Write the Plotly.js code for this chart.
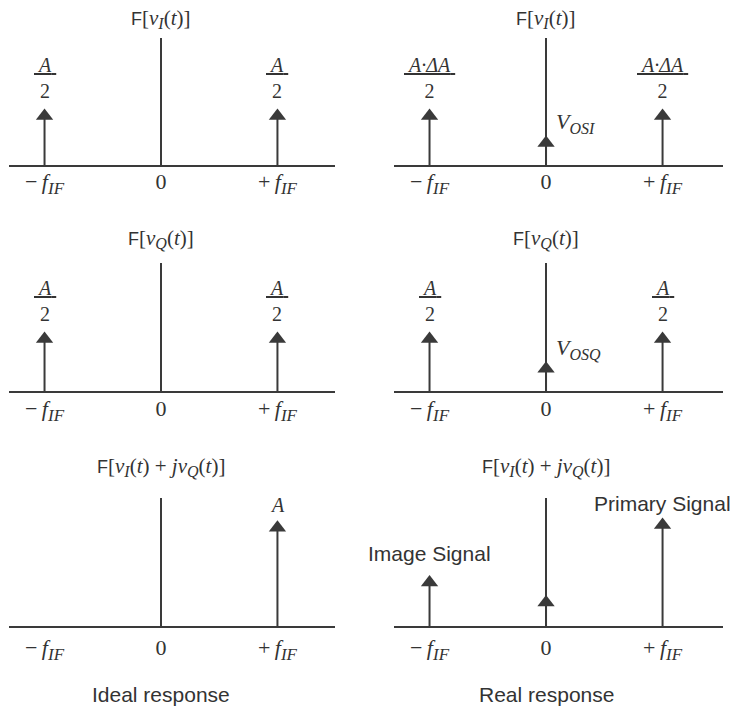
<!DOCTYPE html>
<html>
<head>
<meta charset="utf-8">
<script src="https://cdn.plot.ly/plotly-3.0.1.min.js"></script>
<style>
  html, body { margin: 0; padding: 0; background: #ffffff; }
  #chart { width: 733px; height: 706px; }
</style>
</head>
<body>
<div id="chart"></div>
<script>
// Subscript helper: larger subscripts than Plotly's default 70%
function sub(s, px) {
  return '<sub><span style="font-size:' + px + 'px"><i>' + s + '</i></span></sub>';
}

// Frequency positions (in units of f_IF) and their tick labels
const freqTicks = [-1, 0, 1];
const freqTickLabels = [
  '\u2212\u2009<i>f</i>' + sub('IF', 17),
  '0',
  '+\u2009<i>f</i>' + sub('IF', 17)
];

// Spectral lines of each panel: frequency (x f_IF) and relative amplitude
const idealIFreq = [-1, 1];
const idealIAmp  = [0.39, 0.39];
const realIFreq  = [-1, 0, 1];
const realIAmp   = [0.39, 0.18, 0.39];
const idealQFreq = [-1, 1];
const idealQAmp  = [0.41, 0.41];
const realQFreq  = [-1, 0, 1];
const realQAmp   = [0.41, 0.18, 0.41];
const idealCFreq = [1];
const idealCAmp  = [0.77];
const realCFreq  = [-1, 0, 1];
const realCAmp   = [0.345, 0.19, 0.79];

const F = '<span style="font-family:Liberation Sans,Arial,sans-serif;font-size:18px">F</span>';
const vI = '<i>v</i>' + sub('I', 16);
const vQ = '<i>v</i>' + sub('Q', 16);
const panelTitles = [
  F + '[' + vI + '(<i>t</i>)]',
  F + '[' + vI + '(<i>t</i>)]',
  F + '[' + vQ + '(<i>t</i>)]',
  F + '[' + vQ + '(<i>t</i>)]',
  F + '[' + vI + '(<i>t</i>) + <i>j</i>' + vQ + '(<i>t</i>)]',
  F + '[' + vI + '(<i>t</i>) + <i>j</i>' + vQ + '(<i>t</i>)]'
];
const columnCaptions = ['Ideal response', 'Real response'];

const INK = '#3a3a3a';
const TEXT = '#333333';
const SERIF = 'Liberation Serif, Times New Roman, serif';
const SANS = 'Liberation Sans, Arial, sans-serif';

const panels = [
  { f: idealIFreq, a: idealIAmp },
  { f: realIFreq,  a: realIAmp },
  { f: idealQFreq, a: idealQAmp },
  { f: realQFreq,  a: realQAmp },
  { f: idealCFreq, a: idealCAmp },
  { f: realCFreq,  a: realCAmp }
];

// Subplot placement (paper fractions)
const colX = [[0.0123, 0.4570], [0.5375, 0.9864]];
const colRange = [[-1.305, 1.494], [-1.305, 1.519]];
const rowY = [[0.7649, 0.9462], [0.4448, 0.6275], [0.1119, 0.2946]];
const rowStandoff = [0, 1, 5];
const rowTitleShift = [4, 9, 16];

const traces = [];
const layout = {
  width: 733, height: 706,
  margin: { l: 0, r: 0, t: 0, b: 0 },
  paper_bgcolor: '#ffffff', plot_bgcolor: 'rgba(0,0,0,0)',
  showlegend: false,
  annotations: []
};

panels.forEach((p, i) => {
  const n = i + 1;
  const sfx = n === 1 ? '' : String(n);
  const xa = 'x' + sfx, ya = 'y' + sfx;
  const col = i % 2, row = Math.floor(i / 2);

  // stems
  const sx = [], sy = [];
  p.f.forEach((f, k) => { sx.push(f, f, null); sy.push(0, p.a[k], null); });
  traces.push({
    type: 'scatter', mode: 'lines', x: sx, y: sy, xaxis: xa, yaxis: ya,
    line: { color: INK, width: 2 }, hoverinfo: 'skip', cliponaxis: false
  });
  // arrow heads
  traces.push({
    type: 'scatter', mode: 'markers', x: p.f, y: p.a, xaxis: xa, yaxis: ya,
    marker: { symbol: 'triangle-up', size: 15, color: INK, line: { width: 0 } },
    hoverinfo: 'skip', cliponaxis: false
  });

  layout['xaxis' + sfx] = {
    domain: colX[col], range: colRange[col], anchor: ya,
    showgrid: false, showline: false, ticks: '',
    zeroline: true, zerolinecolor: INK, zerolinewidth: 2,
    tickmode: 'array', tickvals: freqTicks, ticktext: freqTickLabels,
    tickfont: { family: SERIF, size: 22, color: TEXT },
    ticklabelstandoff: rowStandoff[row], fixedrange: true
  };
  layout['yaxis' + sfx] = {
    domain: rowY[row], range: [0, 1], anchor: xa,
    showgrid: false, showline: false, ticks: '', showticklabels: false,
    zeroline: true, zerolinecolor: INK, zerolinewidth: 2, fixedrange: true
  };

  // panel title above the vertical axis
  layout.annotations.push({
    xref: xa, yref: ya, x: 0, y: 1, xanchor: 'center', yanchor: 'bottom',
    yshift: rowTitleShift[row], showarrow: false,
    text: panelTitles[i],
    font: { family: SERIF, size: 21, color: TEXT }
  });
});

// amplitude labels
const fracHalf = '<u>\u00a0<i>A</i>\u00a0</u><br>2';
const fracDelta = '<u>\u00a0<i>A\u00b7\u0394A</i>\u00a0</u><br>2';
function label(axn, x, y, text, opts) {
  const sfx = axn === 1 ? '' : String(axn);
  layout.annotations.push(Object.assign({
    xref: 'x' + sfx, yref: 'y' + sfx, x: x, y: y, showarrow: false,
    xanchor: 'center', yanchor: 'bottom', text: text,
    font: { family: SERIF, size: 20, color: TEXT }
  }, opts || {}));
}
const vOffset = { xanchor: 'left', xshift: 8, yshift: 4, font: { family: SERIF, size: 22, color: TEXT } };
label(1, idealIFreq[0], idealIAmp[0], fracHalf, { yshift: 12 });
label(1, idealIFreq[1], idealIAmp[1], fracHalf, { yshift: 12 });
label(2, realIFreq[0], realIAmp[0], fracDelta, { yshift: 12 });
label(2, realIFreq[2], realIAmp[2], fracDelta, { yshift: 12 });
label(2, realIFreq[1], realIAmp[1], '<i>V</i>' + sub('OSI', 16), vOffset);
label(3, idealQFreq[0], idealQAmp[0], fracHalf, { yshift: 12 });
label(3, idealQFreq[1], idealQAmp[1], fracHalf, { yshift: 12 });
label(4, realQFreq[0], realQAmp[0], fracHalf, { yshift: 12 });
label(4, realQFreq[2], realQAmp[2], fracHalf, { yshift: 12 });
label(4, realQFreq[1], realQAmp[1], '<i>V</i>' + sub('OSQ', 16), vOffset);
label(5, idealCFreq[0], idealCAmp[0], '<i>A</i>', { yshift: 10 });
label(6, realCFreq[0], realCAmp[0], 'Image Signal',
  { yshift: 16, font: { family: SANS, size: 21, color: TEXT } });
label(6, realCFreq[2], realCAmp[2], 'Primary Signal',
  { yshift: 8, font: { family: SANS, size: 21, color: TEXT } });

// column captions
columnCaptions.forEach((c, j) => {
  layout.annotations.push({
    xref: j === 0 ? 'x5' : 'x6', yref: 'paper', x: 0, y: 1 - 694 / 706,
    xanchor: 'center', yanchor: 'middle', showarrow: false, text: c,
    font: { family: SANS, size: 21, color: TEXT }
  });
});

Plotly.newPlot('chart', traces, layout, { staticPlot: true, displayModeBar: false });
</script>
</body>
</html>
